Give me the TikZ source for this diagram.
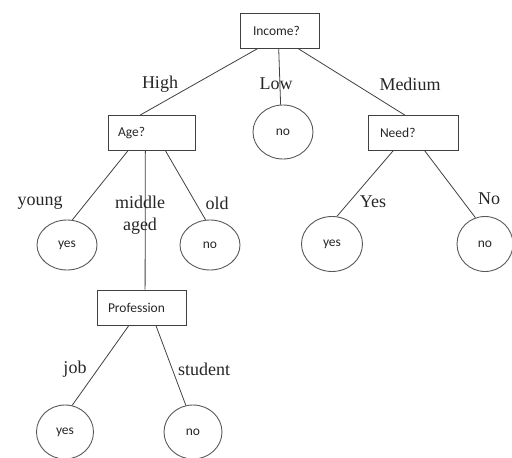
\documentclass[tikz,border=0pt]{standalone}
\usepackage{fontspec}
\setmainfont{Liberation Serif}
\newfontfamily\boxfont{Carlito}
\usetikzlibrary{shapes.geometric,calc}
\begin{document}
\begin{tikzpicture}[x=1pt,y=-1pt,
  qbox/.style={draw=black!75,line width=0.8pt,rectangle,minimum height=35pt,inner ysep=0pt,align=left,font=\boxfont\fontsize{13.5}{15}\selectfont,text=black!85},
  leaf/.style={draw=black!65,line width=0.9pt,ellipse,inner sep=0pt,font=\boxfont\fontsize{13.5}{15}\selectfont,text=black!85},
  edge/.style={draw=black!75,line width=0.8pt},
  lbl/.style={font=\fontsize{18}{20}\selectfont,text=black!85,inner sep=0pt}]
\useasboundingbox (0,0) rectangle (512,458);
% boxes
\node[qbox,inner xsep=13pt,text width=53pt] (inc) at (279.5,30.5) {Income?};
\node[qbox,inner xsep=10pt,text width=67pt] (age) at (151.5,133) {Age?};
\node[qbox,inner xsep=12pt,text width=66pt] (need) at (413,133) {Need?};
\node[qbox,inner xsep=11pt,text width=67pt] (prof) at (141.5,307.5) {Profession};
% leaves
\node[leaf,minimum width=60pt,minimum height=54pt] (low) at (283,132) {no};
\node[leaf,minimum width=60pt,minimum height=50pt] (young) at (67,245) {yes};
\node[leaf,minimum width=60pt,minimum height=50pt] (old) at (210,245) {no};
\node[leaf,minimum width=61pt,minimum height=55pt] (nyes) at (332,244) {yes};
\node[leaf,minimum width=56pt,minimum height=55pt] (nno) at (485,244) {no};
\node[leaf,minimum width=57pt,minimum height=54pt] (pyes) at (65,432) {yes};
\node[leaf,minimum width=58pt,minimum height=54pt] (pno) at (193,432) {no};
% edges
\draw[edge] ($(inc.south west)!0.23!(inc.south east)$) -- ($(age.north west)!0.37!(age.north east)$);
\draw[edge] ($(inc.south west)!0.49!(inc.south east)$) -- (low.95);
\draw[edge] ($(inc.south west)!0.73!(inc.south east)$) -- ($(need.north west)!0.41!(need.north east)$);
\draw[edge] ($(age.south west)!0.23!(age.south east)$) -- (young.78);
\draw[edge] ($(age.south west)!0.43!(age.south east)$) -- ($(prof.north west)!0.54!(prof.north east)$);
\draw[edge] ($(age.south west)!0.66!(age.south east)$) -- (old.100);
\draw[edge] ($(need.south west)!0.28!(need.south east)$) -- (nyes.80);
\draw[edge] ($(need.south west)!0.63!(need.south east)$) -- (nno.110);
\draw[edge] ($(prof.south west)!0.36!(prof.south east)$) -- (pyes.75);
\draw[edge] ($(prof.south west)!0.66!(prof.south east)$) -- (pno.105);
% labels
\node[lbl] (lhigh) at (160,84) {High};
\node[lbl] (llow) at (276,84) {Low};
\node[lbl] (lmed) at (410,84) {Medium};
\node[lbl] (lyoung) at (40,203) {young};
\node[lbl] (lmid) at (140,202) {middle};
\node[lbl] (laged) at (140,226) {aged};
\node[lbl] (lold) at (217,203) {old};
\node[lbl] (lyes) at (373,202) {Yes};
\node[lbl] (lno) at (489,199) {No};
\node[lbl] (ljob) at (75,369) {job};
\node[lbl] (lstud) at (204,369) {student};
\end{tikzpicture}
\end{document}
